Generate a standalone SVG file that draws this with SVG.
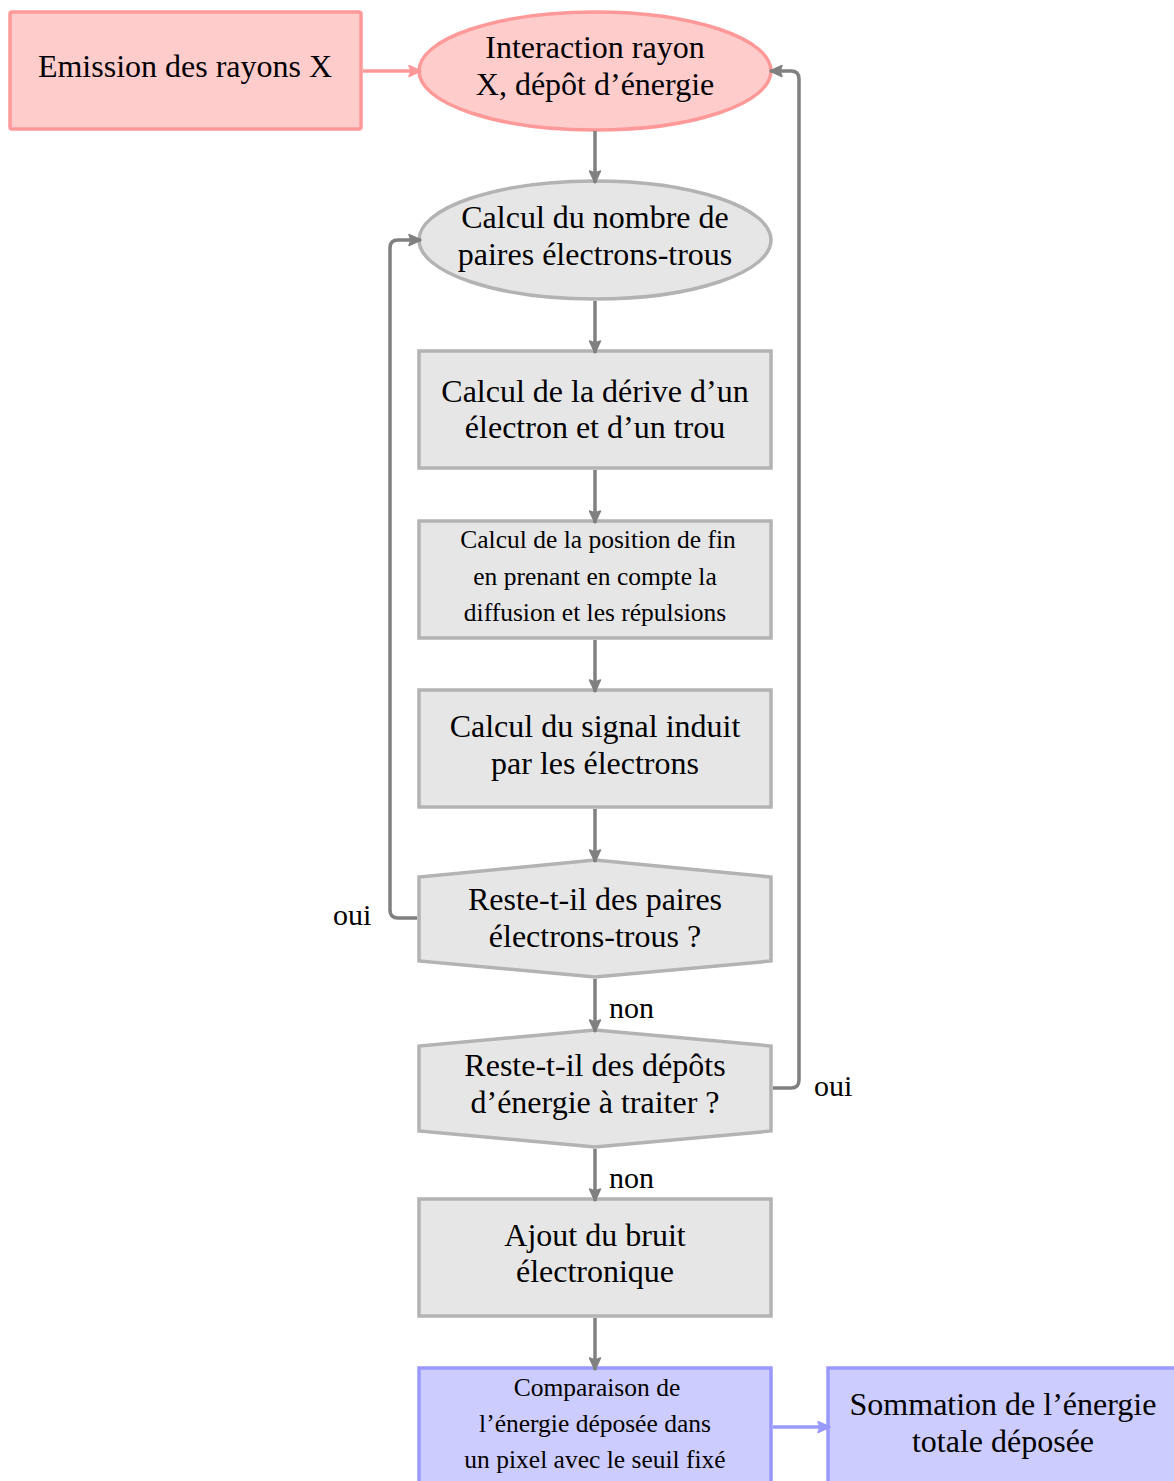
<svg xmlns="http://www.w3.org/2000/svg" width="1174" height="1481" viewBox="0 0 1174 1481">
<style>
text{font-family:"Liberation Serif","Times New Roman",serif;font-size:32px;fill:#000;text-anchor:middle}
.sm{font-size:25.5px}
.red{fill:#ffcccc;stroke:#ff9999;stroke-width:3.5}
.gray{fill:#e6e6e6;stroke:#b3b3b3;stroke-width:3.5}
.blue{fill:#ccccff;stroke:#9999ff;stroke-width:3.5}
.c{fill:none;stroke:#808080;stroke-width:3.5;stroke-linejoin:round}
.cr{fill:none;stroke:#ff9999;stroke-width:3.5}
.cb{fill:none;stroke:#9999ff;stroke-width:3.5}
.lbl{text-anchor:start;font-size:30px}
</style>
<defs>
<marker id="ag" markerWidth="14" markerHeight="13" refX="13" refY="6.5" orient="auto" markerUnits="userSpaceOnUse"><path d="M1,1 L13,6.5 L1,12 L3,6.5 Z" fill="#808080" stroke="#808080" stroke-width="1.5" stroke-linejoin="round"/></marker>
<marker id="ar" markerWidth="14" markerHeight="13" refX="13" refY="6.5" orient="auto" markerUnits="userSpaceOnUse"><path d="M1,1 L13,6.5 L1,12 L3,6.5 Z" fill="#ff9999" stroke="#ff9999" stroke-width="1.5" stroke-linejoin="round"/></marker>
<marker id="ab" markerWidth="14" markerHeight="13" refX="13" refY="6.5" orient="auto" markerUnits="userSpaceOnUse"><path d="M1,1 L13,6.5 L1,12 L3,6.5 Z" fill="#9999ff" stroke="#9999ff" stroke-width="1.5" stroke-linejoin="round"/></marker>
</defs>
<g id="emission"><rect class="red" x="10" y="12" width="351" height="117" rx="2"/><text x="185" y="77">Emission des rayons X</text></g>
<g id="interaction"><ellipse class="red" cx="595" cy="71" rx="176" ry="59"/><text x="595" y="58">Interaction rayon</text><text x="595" y="95">X, dépôt d’énergie</text></g>
<g id="paires"><ellipse class="gray" cx="595" cy="240" rx="176" ry="59"/><text x="595" y="228">Calcul du nombre de</text><text x="595" y="265">paires électrons-trous</text></g>
<g id="derive"><rect class="gray" x="419" y="351" width="352" height="117"/><text x="595" y="402">Calcul de la dérive d’un</text><text x="595" y="438">électron et d’un trou</text></g>
<g id="position"><rect class="gray" x="419" y="521" width="352" height="117"/><text class="sm" x="598" y="548">Calcul de la position de fin</text><text class="sm" x="595" y="585">en prenant en compte la</text><text class="sm" x="595" y="621">diffusion et les répulsions</text></g>
<g id="signal"><rect class="gray" x="419" y="690" width="352" height="117"/><text x="595" y="737">Calcul du signal induit</text><text x="595" y="774">par les électrons</text></g>
<g id="reste-paires"><path class="gray" d="M595,860 L771,877 V961 L595,977 L419,961 V877 Z"/><text x="595" y="910">Reste-t-il des paires</text><text x="595" y="947">électrons-trous ?</text></g>
<g id="reste-depots"><path class="gray" d="M595,1030 L771,1046 V1131 L595,1147 L419,1131 V1046 Z"/><text x="595" y="1076">Reste-t-il des dépôts</text><text x="595" y="1113">d’énergie à traiter ?</text></g>
<g id="bruit"><rect class="gray" x="419" y="1199" width="352" height="117"/><text x="595" y="1246">Ajout du bruit</text><text x="595" y="1282">électronique</text></g>
<g id="comparaison"><rect class="blue" x="419" y="1368" width="352" height="130"/><text class="sm" x="597" y="1396">Comparaison de</text><text class="sm" x="595" y="1432">l’énergie déposée dans</text><text class="sm" x="595" y="1468">un pixel avec le seuil fixé</text></g>
<g id="sommation"><rect class="blue" x="828" y="1368" width="360" height="130"/><text x="1003" y="1415">Sommation de l’énergie</text><text x="1003" y="1452">totale déposée</text></g>
<g id="connectors">
<path class="cr" d="M363,71 H421" marker-end="url(#ar)"/>
<path class="c" d="M595,131 V183" marker-end="url(#ag)"/>
<path class="c" d="M595,301 V353" marker-end="url(#ag)"/>
<path class="c" d="M595,470 V523" marker-end="url(#ag)"/>
<path class="c" d="M595,640 V692" marker-end="url(#ag)"/>
<path class="c" d="M595,809 V862" marker-end="url(#ag)"/>
<path class="c" d="M595,979 V1032" marker-end="url(#ag)"/>
<path class="c" d="M595,1149 V1201" marker-end="url(#ag)"/>
<path class="c" d="M595,1318 V1370" marker-end="url(#ag)"/>
<path class="c" d="M417,918 H398 Q390,918 390,910 V248 Q390,240 398,240 H421" marker-end="url(#ag)"/>
<path class="c" d="M773,1088 H791 Q799,1088 799,1080 V79 Q799,71 791,71 H770" marker-end="url(#ag)"/>
<path class="cb" d="M773,1427 H830" marker-end="url(#ab)"/>
<text class="lbl" x="333" y="925">oui</text>
<text class="lbl" x="814" y="1096">oui</text>
<text class="lbl" x="609" y="1018">non</text>
<text class="lbl" x="609" y="1188">non</text>
</g>
</svg>
